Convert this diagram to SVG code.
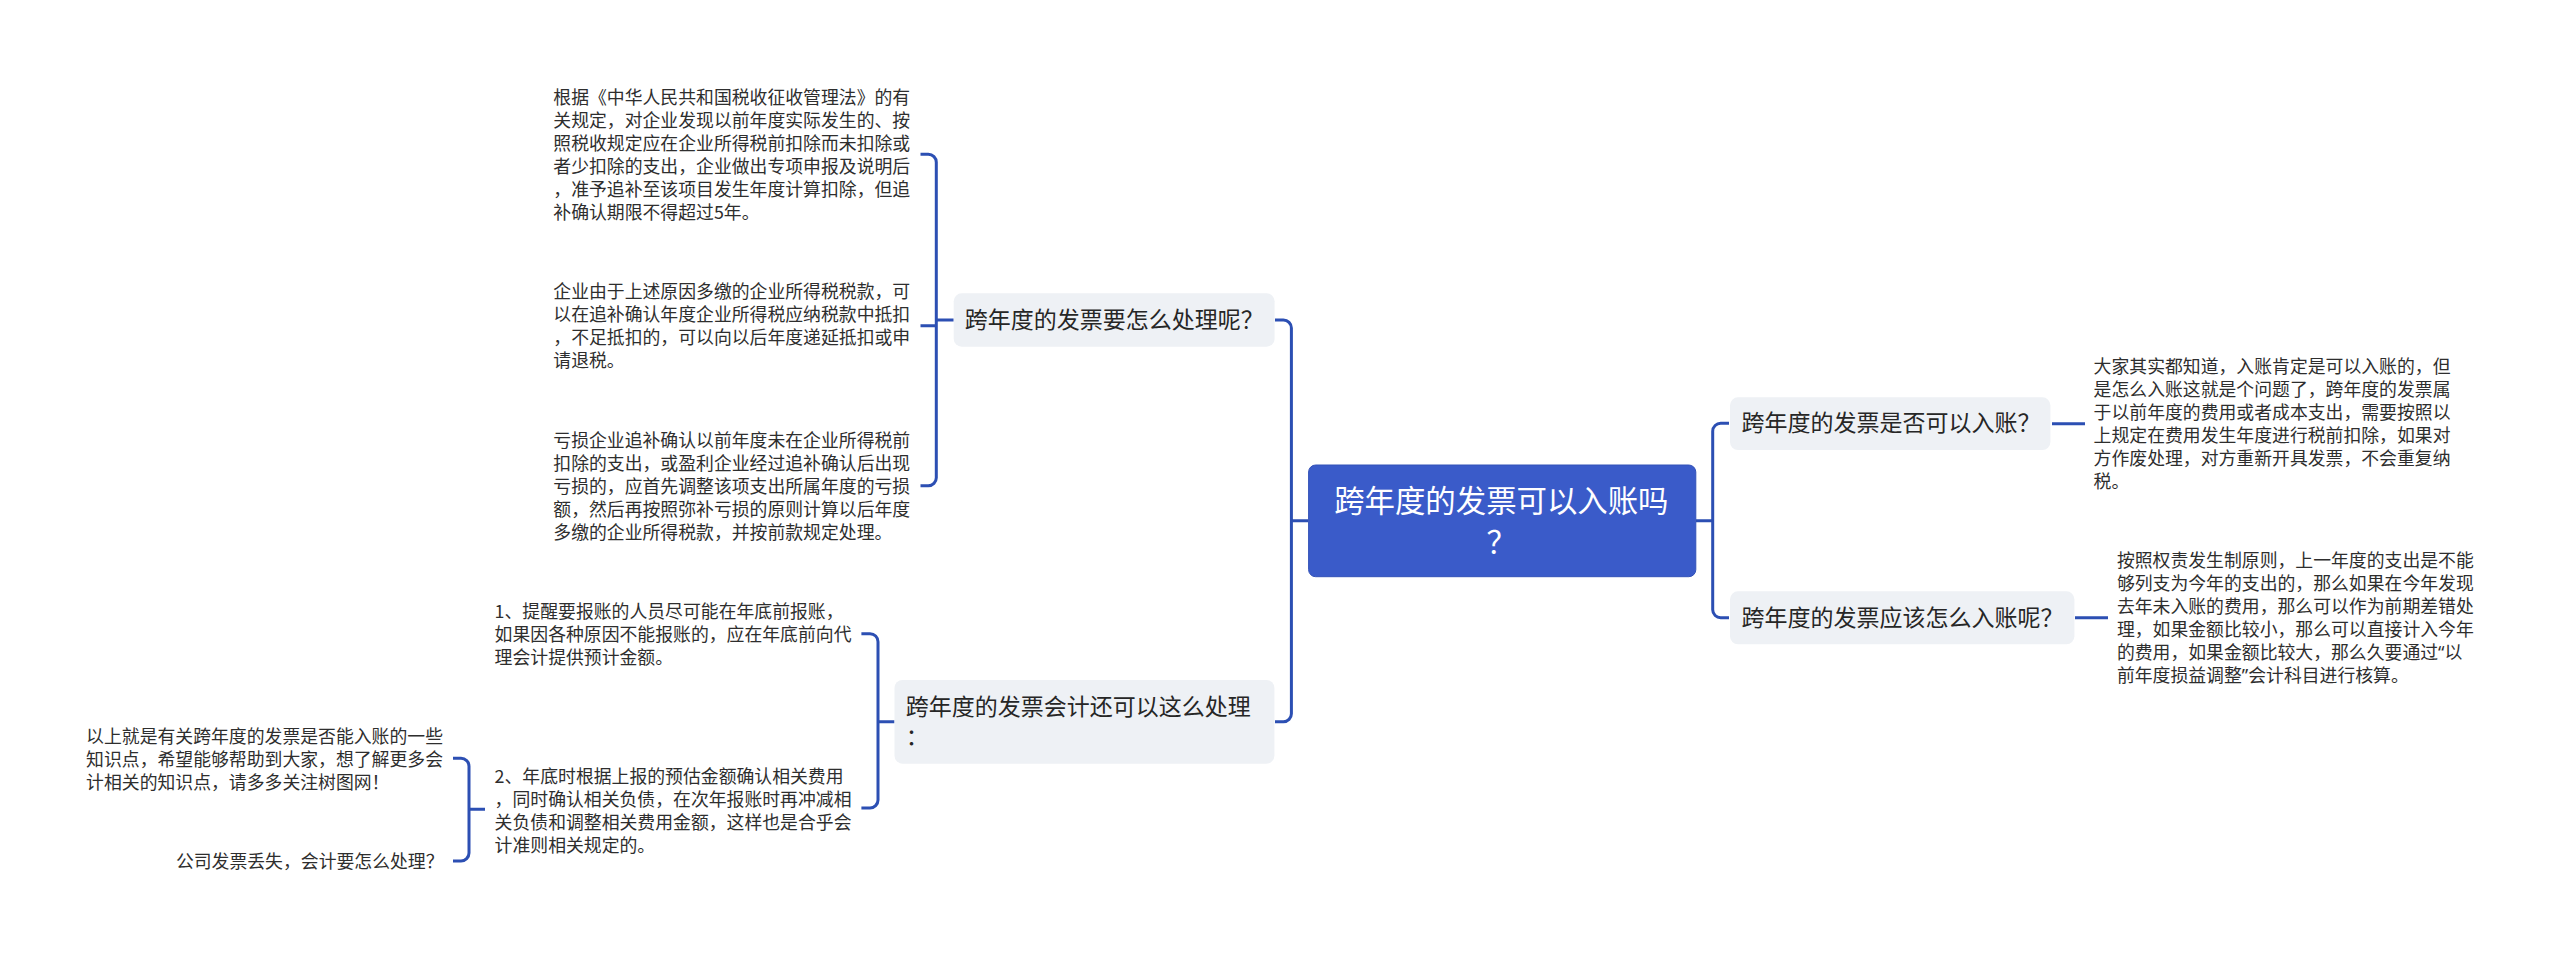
<svg xmlns="http://www.w3.org/2000/svg" width="2560" height="958" viewBox="0 0 2560 958">
<style>
text{font-family:"Noto Sans CJK SC","Noto Sans",sans-serif}
.c{fill:none;stroke:#2c4fb3;stroke-width:3;stroke-linecap:butt}
.t{font-size:17.85px;fill:#2e2e2e}
.n{font-size:23px;fill:#262626}
.r{font-size:30.4px;fill:#fff}
.b{fill:#eef1f5}
.q{font-family:"Noto Sans",sans-serif}
</style>
<rect width="2560" height="958" fill="#fff"/>
<g id="connectors">
<path class="c" d="M1696 520.7H1712.7M1729 423.3H1721A8 8 0 0 0 1712.7 431.3V609.7A8 8 0 0 0 1721 617.7H1729"/>
<path class="c" d="M1308 520.7H1291.4M1275 320H1283.4A8 8 0 0 1 1291.4 328V713.7A8 8 0 0 1 1283.4 721.7H1275"/>
<path class="c" d="M2052 423.7H2085M2075 617.7H2108"/>
<path class="c" d="M953.7 320H936.3M920.5 154.3H928.3A8 8 0 0 1 936.3 162.3V477.7A8 8 0 0 1 928.3 485.7H920.5M920.5 325.7H936.3"/>
<path class="c" d="M894.5 721.7H878M861.4 633.7H870A8 8 0 0 1 878 641.7V800A8 8 0 0 1 870 808H861.4"/>
<path class="c" d="M485 809.3H469M453 758.3H461A8 8 0 0 1 469 766.3V853A8 8 0 0 1 461 861H453"/>
</g>
<g id="root"><rect x="1308.6" y="465" width="387.2" height="111.7" rx="7" fill="#3a5bc9" stroke="#3352b8" stroke-width="1"/>
<text class="r" x="1334.2" y="511.5">跨年度的发票可以入账吗</text><text class="r" x="1486.5" y="552.5">？</text></g>
<g id="n-r1"><rect class="b" x="1730" y="397.3" width="320.4" height="52.7" rx="8"/><text class="n" x="1741.4" y="431.4">跨年度的发票是否可以入账？</text></g>
<g id="n-r2"><rect class="b" x="1730" y="591.3" width="344.4" height="53" rx="8"/><text class="n" x="1741.4" y="626.1">跨年度的发票应该怎么入账呢？</text></g>
<g id="n-l1"><rect class="b" x="953.7" y="293.3" width="320.9" height="53.4" rx="8"/><text class="n" x="964.7" y="328.1">跨年度的发票要怎么处理呢？</text></g>
<g id="n-l2"><rect class="b" x="894.5" y="680" width="379.9" height="83.7" rx="8"/><text class="n" x="905.7" y="714.8">跨年度的发票会计还可以这么处理</text><text class="n" x="905.7" y="744.8">：</text></g>
<g transform="translate(-0.4,-0.8)">
<g id="t-l1a" class="t"><text x="553.7" y="105">根据《中华人民共和国税收征收管理法》的有</text><text x="553.7" y="128">关规定，对企业发现以前年度实际发生的、按</text><text x="553.7" y="151">照税收规定应在企业所得税前扣除而未扣除或</text><text x="553.7" y="174">者少扣除的支出，企业做出专项申报及说明后</text><text x="553.7" y="197">，准予追补至该项目发生年度计算扣除，但追</text><text x="553.7" y="220">补确认期限不得超过5年。</text></g>
<g id="t-l1b" class="t"><text x="553.7" y="299">企业由于上述原因多缴的企业所得税税款，可</text><text x="553.7" y="322">以在追补确认年度企业所得税应纳税款中抵扣</text><text x="553.7" y="345">，不足抵扣的，可以向以后年度递延抵扣或申</text><text x="553.7" y="368">请退税。</text></g>
<g id="t-l1c" class="t"><text x="553.7" y="447.5">亏损企业追补确认以前年度未在企业所得税前</text><text x="553.7" y="470.5">扣除的支出，或盈利企业经过追补确认后出现</text><text x="553.7" y="493.5">亏损的，应首先调整该项支出所属年度的亏损</text><text x="553.7" y="516.5">额，然后再按照弥补亏损的原则计算以后年度</text><text x="553.7" y="539.5">多缴的企业所得税款，并按前款规定处理。</text></g>
<g id="t-l2a" class="t"><text x="495" y="619">1、提醒要报账的人员尽可能在年底前报账，</text><text x="495" y="642">如果因各种原因不能报账的，应在年底前向代</text><text x="495" y="665">理会计提供预计金额。</text></g>
<g id="t-l2b" class="t"><text x="495" y="783.5">2、年底时根据上报的预估金额确认相关费用</text><text x="495" y="806.5">，同时确认相关负债，在次年报账时再冲减相</text><text x="495" y="829.5">关负债和调整相关费用金额，这样也是合乎会</text><text x="495" y="852.5">计准则相关规定的。</text></g>
<g id="t-l3a" class="t"><text x="86.5" y="744.3">以上就是有关跨年度的发票是否能入账的一些</text><text x="86.5" y="767.3">知识点，希望能够帮助到大家，想了解更多会</text><text x="86.5" y="790.3">计相关的知识点，请多多关注树图网！</text></g>
<g id="t-l3b" class="t"><text x="176.3" y="868.8">公司发票丢失，会计要怎么处理？</text></g>
<g id="t-r1" class="t"><text x="2094" y="373.5">大家其实都知道，入账肯定是可以入账的，但</text><text x="2094" y="396.5">是怎么入账这就是个问题了，跨年度的发票属</text><text x="2094" y="419.5">于以前年度的费用或者成本支出，需要按照以</text><text x="2094" y="442.5">上规定在费用发生年度进行税前扣除，如果对</text><text x="2094" y="465.5">方作废处理，对方重新开具发票，不会重复纳</text><text x="2094" y="488.5">税。</text></g>
<g id="t-r2" class="t"><text x="2117.3" y="568">按照权责发生制原则，上一年度的支出是不能</text><text x="2117.3" y="591">够列支为今年的支出的，那么如果在今年发现</text><text x="2117.3" y="614">去年未入账的费用，那么可以作为前期差错处</text><text x="2117.3" y="637">理，如果金额比较小，那么可以直接计入今年</text><text x="2117.3" y="660">的费用，如果金额比较大，那么久要通过<tspan class="q">“</tspan>以</text><text x="2117.3" y="683">前年度损益调整<tspan class="q">”</tspan>会计科目进行核算。</text></g>
</g>
</svg>
